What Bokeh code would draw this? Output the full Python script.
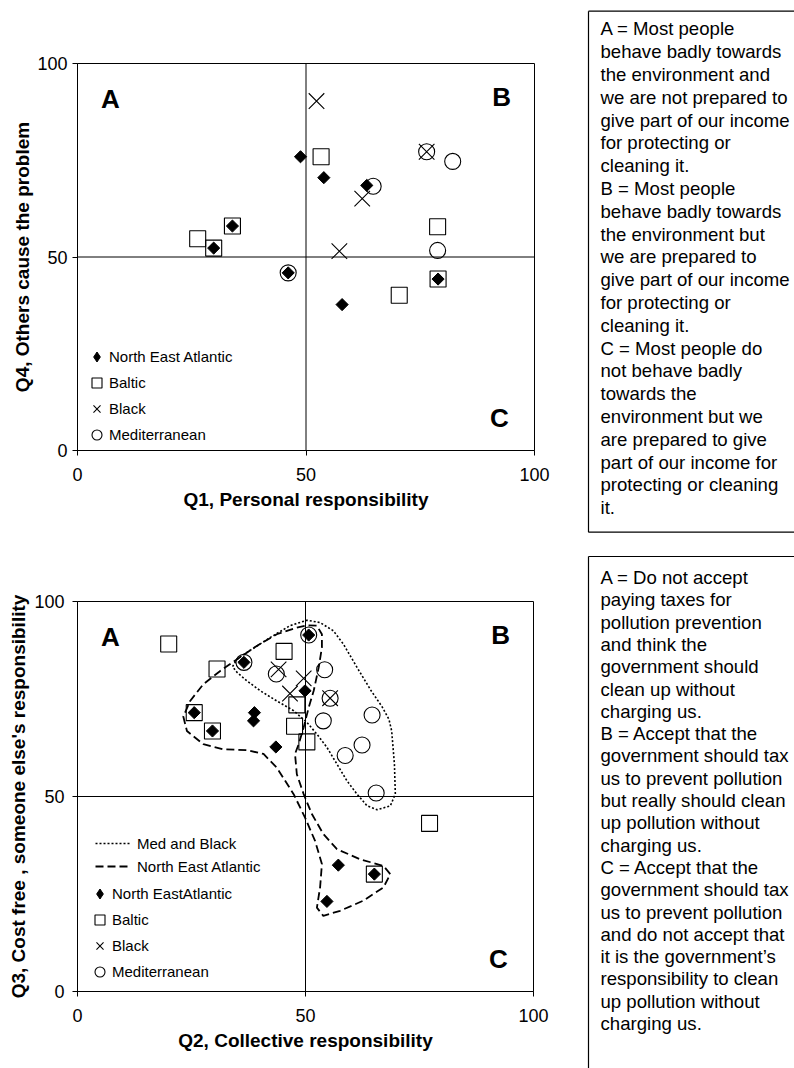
import math
from bokeh.plotting import figure
from bokeh.models import Range1d, FixedTicker, Span, Legend, LegendItem, ColumnDataSource
from bokeh.layouts import row, column
from bokeh.embed import file_html
from bokeh.resources import INLINE
from bokeh.core.properties import value

FONT = "Liberation Sans"

# ---------------- data ----------------
tick_values = [0, 50, 100]
quadrant_letters = ["A", "B", "C"]

# Chart 1: Q1 Personal responsibility (x) vs Q4 Others cause the problem (y)
c1_nea_x = [48.8, 53.9, 63.3, 33.9, 29.8, 46.1, 57.9, 78.9]
c1_nea_y = [75.9, 70.5, 68.5, 58.0, 52.3, 45.9, 37.7, 44.3]
c1_baltic_x = [53.3, 26.3, 29.8, 33.9, 78.8, 78.9, 70.4]
c1_baltic_y = [75.9, 54.7, 52.3, 58.0, 57.8, 44.3, 40.1]
c1_black_x = [52.3, 62.3, 57.3, 76.4]
c1_black_y = [90.3, 65.1, 51.5, 77.2]
c1_med_x = [76.4, 82.1, 64.7, 78.8, 46.1]
c1_med_y = [77.2, 74.7, 68.3, 51.7, 45.9]

# Chart 2: Q2 Collective responsibility (x) vs Q3 Cost free (y)
c2_nea_x = [50.7, 36.5, 49.9, 25.6, 38.8, 38.6, 29.6, 43.5, 57.2, 65.1, 54.7]
c2_nea_y = [91.4, 84.4, 77.1, 71.5, 71.5, 69.4, 66.8, 62.7, 32.4, 30.1, 23.1]
c2_baltic_x = [20.0, 45.3, 30.6, 25.6, 29.6, 48.1, 47.6, 50.3, 77.2, 65.1]
c2_baltic_y = [89.1, 87.2, 82.7, 71.5, 66.8, 73.5, 68.0, 64.0, 43.1, 30.1]
c2_black_x = [44.1, 49.6, 46.6, 55.4]
c2_black_y = [82.6, 80.3, 76.4, 75.2]
c2_med_x = [50.7, 36.5, 43.6, 54.2, 55.4, 53.9, 64.6, 62.4, 58.7, 65.5]
c2_med_y = [91.4, 84.4, 81.4, 82.5, 75.2, 69.4, 70.9, 63.2, 60.5, 50.9]

# hand-drawn group outlines in chart 2
medblack_outline_x = [34.0, 35.0, 37.1, 42.3, 46.6, 50.3, 53.2, 56.1, 58.3, 61.3, 64.4, 66.8,
                      68.3, 68.9, 69.5, 69.7, 68.6, 65.7, 63.5, 61.3, 59.1, 56.9, 54.7, 52.5,
                      50.3, 47.4, 43.7, 40.1, 37.1, 35.0, 34.0]
medblack_outline_y = [83.3, 85.2, 86.9, 90.8, 93.8, 95.2, 94.6, 92.5, 89.1, 83.1, 77.1, 73.0,
                      69.8, 66.8, 58.3, 50.6, 47.6, 46.6, 47.6, 50.6, 54.0, 58.3, 62.6, 66.0,
                      69.0, 72.0, 74.5, 77.1, 79.7, 81.8, 83.3]
nea_outline_x = [48.1, 50.3, 52.5, 53.6, 53.6, 52.9, 51.8, 50.7, 49.6, 48.5, 47.7, 48.1, 49.6,
                 51.4, 53.9, 56.9, 62.0, 67.1, 68.6, 67.1, 62.7, 57.6, 53.9, 52.5, 53.2, 53.6,
                 52.1, 49.9, 47.4, 43.7, 40.8, 37.1, 32.0, 27.6, 24.0, 23.2, 24.7, 27.6, 31.3,
                 35.0, 39.3, 43.7, 48.1]
nea_outline_y = [93.3, 93.9, 93.8, 91.6, 88.2, 83.1, 77.1, 72.8, 67.7, 63.4, 60.9, 55.7, 50.6,
                 45.5, 40.4, 36.5, 33.9, 32.2, 30.1, 26.7, 23.3, 20.7, 19.4, 21.5, 26.7, 32.7,
                 38.6, 44.6, 50.6, 57.4, 60.9, 61.9, 62.1, 63.4, 66.8, 70.5, 74.5, 78.8, 82.2,
                 85.2, 88.6, 91.6, 93.3]

top_box_lines = [
    "A = Most people", "behave badly towards", "the environment and",
    "we are not prepared to", "give part of our income", "for protecting or",
    "cleaning it.", "B = Most people", "behave badly towards", "the environment but",
    "we are prepared to", "give part of our income", "for protecting or",
    "cleaning it.", "C = Most people do", "not behave badly", "towards the",
    "environment but we", "are prepared to give", "part of our income for",
    "protecting or cleaning", "it.",
]
bottom_box_lines = [
    "A = Do not accept", "paying taxes for", "pollution prevention", "and think the",
    "government should", "clean up without", "charging us.", "B = Accept that the",
    "government should tax", "us to prevent pollution", "but really should clean",
    "up pollution without", "charging us.", "C = Accept that the",
    "government should tax", "us to prevent pollution", "and do not accept that",
    "it is the government\u2019s", "responsibility to clean", "up pollution without",
    "charging us.",
]

# ---------------- styling helpers ----------------
QUAD_X = [7.2, 92.8, 92.3]
QUAD_Y = [90.8, 91.4, 8.4]


def make_chart(xlabel, ylabel, fw, fh, bl, br, bt, bb, ystandoff, ytitle_standoff,
               nea, baltic, black, med):
    p = figure(frame_width=fw, frame_height=fh, min_border_left=bl, min_border_right=br,
               min_border_top=bt, min_border_bottom=bb,
               x_range=Range1d(0, 100), y_range=Range1d(0, 100),
               output_backend="svg", toolbar_location=None)
    p.grid.visible = False
    p.outline_line_color = "black"
    p.outline_line_width = 1
    p.background_fill_color = "white"
    p.border_fill_color = "white"
    for ax in (p.xaxis[0], p.yaxis[0]):
        ax.ticker = FixedTicker(ticks=tick_values)
        ax.major_label_text_font = FONT
        ax.major_label_text_font_size = "18px"
        ax.major_label_text_color = "black"
        ax.major_tick_out = 5
        ax.major_tick_in = 0
        ax.major_tick_line_color = "black"
        ax.minor_tick_line_color = None
        ax.axis_line_color = "black"
        ax.axis_label_text_font = FONT
        ax.axis_label_text_font_size = "19px"
        ax.axis_label_text_font_style = "bold"
        ax.axis_label_text_color = "black"
    p.xaxis.axis_label = xlabel
    p.yaxis.axis_label = ylabel
    p.xaxis.major_label_standoff = 12
    p.xaxis.axis_label_standoff = 5
    p.yaxis.major_label_standoff = ystandoff
    p.yaxis.axis_label_standoff = ytitle_standoff

    p.add_layout(Span(location=50, dimension="height", line_color="black", line_width=1))
    p.add_layout(Span(location=50, dimension="width", line_color="black", line_width=1))

    p.text(x=QUAD_X, y=QUAD_Y, text=quadrant_letters, text_font=value(FONT),
           text_font_size="26px", text_font_style="bold", text_align="center",
           text_baseline="middle", text_color="black")

    r_baltic = p.scatter(baltic[0], baltic[1], marker="square", size=16,
                         fill_color=None, line_color="black", line_width=1.1)
    r_med = p.scatter(med[0], med[1], marker="circle", size=16,
                      fill_color=None, line_color="black", line_width=1.1)
    r_black = p.scatter(black[0], black[1], marker="x", size=22,
                        line_color="black", line_width=1.1)
    nea_src = ColumnDataSource(dict(x=nea[0], y=nea[1]))
    # small diamond (hidden under the rotated square) provides the legend glyph
    r_nea_leg = p.scatter("x", "y", source=nea_src, marker="diamond", size=6,
                          fill_color="black", line_color="black", line_width=1)
    p.scatter("x", "y", source=nea_src, marker="square", size=8.6,
              angle=math.pi / 4, fill_color="black", line_color="black", line_width=1)
    return p, r_nea_leg, r_baltic, r_black, r_med


def marker_legend(items, loc, standoff):
    return Legend(items=items, location=loc, orientation="vertical",
                  glyph_width=25, glyph_height=25, label_height=25, spacing=1,
                  padding=0, margin=0, border_line_color=None, background_fill_alpha=0,
                  label_text_font=FONT, label_text_font_size="15px",
                  label_text_color="black", label_standoff=standoff)


# ---------------- chart 1 ----------------
p1, n1, b1, k1, m1 = make_chart("Q1, Personal responsibility", "Q4, Others cause the problem",
                                457, 387, 75, 54, 63, 90, 5, 1,
                                (c1_nea_x, c1_nea_y), (c1_baltic_x, c1_baltic_y),
                                (c1_black_x, c1_black_y), (c1_med_x, c1_med_y))
leg1 = marker_legend([LegendItem(label="North East Atlantic", renderers=[n1]),
                      LegendItem(label="Baltic", renderers=[b1]),
                      LegendItem(label="Black", renderers=[k1]),
                      LegendItem(label="Mediterranean", renderers=[m1])], (7, 3), -4)
p1.add_layout(leg1)

# ---------------- chart 2 ----------------
p2, n2, b2, k2, m2 = make_chart("Q2, Collective responsibility",
                                "Q3, Cost free , someone else's responsibility",
                                456, 390, 77, 53, 61, 77, 8, 2,
                                (c2_nea_x, c2_nea_y), (c2_baltic_x, c2_baltic_y),
                                (c2_black_x, c2_black_y), (c2_med_x, c2_med_y))
l_med = p2.line(medblack_outline_x, medblack_outline_y, line_color="black",
                line_width=1.6, line_dash="2 2")
l_nea = p2.line(nea_outline_x, nea_outline_y, line_color="black",
                line_width=1.8, line_dash="8 4")
leg2a = Legend(items=[LegendItem(label="Med and Black", renderers=[l_med]),
                      LegendItem(label="North East Atlantic", renderers=[l_nea])],
               location=(18, 115), orientation="vertical", glyph_width=36, glyph_height=20,
               label_height=20, spacing=3, padding=0, margin=0, border_line_color=None,
               background_fill_alpha=0, label_text_font=FONT, label_text_font_size="15px",
               label_text_color="black", label_standoff=6)
leg2b = marker_legend([LegendItem(label="North EastAtlantic", renderers=[n2]),
                       LegendItem(label="Baltic", renderers=[b2]),
                       LegendItem(label="Black", renderers=[k2]),
                       LegendItem(label="Mediterranean", renderers=[m2])], (10, 7), -3)
p2.add_layout(leg2a)
p2.add_layout(leg2b)

# ---------------- text boxes ----------------
TW, TH = 208, 1068
t = figure(frame_width=TW, frame_height=TH, x_range=Range1d(0, TW),
           y_range=Range1d(TH, 0), x_axis_type=None, y_axis_type=None,
           output_backend="svg", toolbar_location=None, min_border=0)
t.grid.visible = False
t.outline_line_color = None
t.segment(x0=[2, 2, 2, 2, 2], y0=[10.7, 10.7, 531.7, 556, 556],
          x1=[TW + 5, 2, TW + 5, TW + 5, 2], y1=[10.7, 531.7, 531.7, 556, TH + 5],
          line_color="black", line_width=1.2)
t.text(x=[14] * len(top_box_lines), y=[28.3 + i * 22.8 for i in range(len(top_box_lines))],
       text=top_box_lines, text_font=value(FONT), text_font_size="18.6px",
       text_baseline="middle", text_align="left", text_color="black")
t.text(x=[14] * len(bottom_box_lines),
       y=[577 + i * 22.3 for i in range(len(bottom_box_lines))],
       text=bottom_box_lines, text_font=value(FONT), text_font_size="18.6px",
       text_baseline="middle", text_align="left", text_color="black")

layout = row(column(p1, p2), t)
open("out.html", "w").write(file_html(layout, INLINE))
